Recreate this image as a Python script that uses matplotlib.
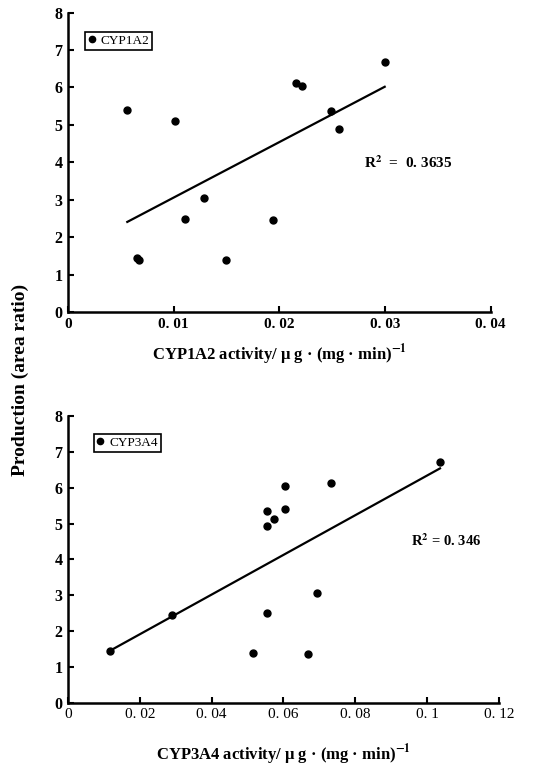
import numpy as np
from matplotlib import pyplot as plt

# CYP1A2 panel
x1 = [0.00561, 0.0065, 0.00675, 0.01013, 0.0111, 0.01284, 0.01492, 0.01937,
      0.02158, 0.02217, 0.02492, 0.02561, 0.02997]
y1 = [5.40, 1.43, 1.39, 5.10, 2.48, 3.05, 1.38, 2.47, 6.13, 6.04, 5.36, 4.90, 6.69]

# CYP3A4 panel
x2 = [0.0117, 0.02905, 0.0516, 0.0553, 0.0553, 0.0555, 0.0574, 0.0604, 0.0604,
      0.0667, 0.0694, 0.0732, 0.1036]
y2 = [1.44, 2.46, 1.38, 2.51, 4.93, 5.36, 5.13, 6.05, 5.41, 1.36, 3.05, 6.14, 6.72]

xt1 = [0, 0.01, 0.02, 0.03, 0.04]
xt1_lab = ['0', '0. 01', '0. 02', '0. 03', '0. 04']
xt2 = [0, 0.02, 0.04, 0.06, 0.08, 0.1, 0.12]
xt2_lab = ['0', '0. 02', '0. 04', '0. 06', '0. 08', '0. 1', '0. 12']
yt = [0, 1, 2, 3, 4, 5, 6, 7, 8]

plt.rcParams['font.family'] = ['Liberation Serif', 'DejaVu Serif']
plt.rcParams['mathtext.fontset'] = 'stix'

fig = plt.figure(figsize=(5.33, 7.68), dpi=100)
ax1 = fig.add_axes([0.1276, 0.5937, 0.793, 0.390])
ax2 = fig.add_axes([0.1276, 0.085, 0.8084, 0.3733])


def panel(ax, x, y, xt, xt_lab, xt_weight, name, r2, r2_pos, r2_size, leg_pos,
          xlabel, lab_y):
    ax.plot(x, y, 'o', color='black', markersize=5, label=name)
    k, b = np.polyfit(x, y, 1)
    xs = np.array([min(x), max(x)])
    ax.plot(xs, k * xs + b, color='black', lw=1.6)
    ax.set_xlim(xt[0], xt[-1])
    ax.set_ylim(0, 8)
    ax.set_xticks(xt)
    ax.set_xticklabels(xt_lab, fontsize=11, fontweight=xt_weight)
    ax.set_yticks(yt)
    ax.set_yticklabels([str(v) for v in yt], fontsize=11.5, fontweight='bold')
    for s in ['top', 'right']:
        ax.spines[s].set_visible(False)
    for s in ['left', 'bottom']:
        ax.spines[s].set_linewidth(1.8)
    ax.tick_params(direction='in', length=4, width=1.5, pad=4)
    ax.text(r2_pos[0], r2_pos[1], r2, fontsize=r2_size, fontweight='bold',
            transform=ax.transAxes, va='center')
    leg = ax.legend(loc='upper left', bbox_to_anchor=leg_pos, fancybox=False,
                    edgecolor='black', framealpha=1, handlelength=0.6,
                    handletextpad=0.4, borderpad=0.2, borderaxespad=0,
                    markerscale=0.9, prop={'size': 9.5})
    leg.get_frame().set_linewidth(1.2)
    ax.set_xlabel(xlabel, fontsize=12, fontweight='bold', va='center')
    ax.xaxis.set_label_coords(0.5, lab_y)


panel(ax1, x1, y1, xt1, xt1_lab, 'bold', 'CYP1A2', r'R$^{\mathbf{2}}$  =  0. 3635',
      (0.70, 0.50), 11, (0.04, 0.935),
      'CYP1A2 activity/ μ g · (mg · min)$^{\\mathbf{-1}}$', -0.143)
panel(ax2, x2, y2, xt2, xt2_lab, 'normal', 'CYP3A4', r'R$^{\mathbf{2}}$ = 0. 346',
      (0.795, 0.565), 10.5, (0.06, 0.937),
      'CYP3A4 activity/ μ g · (mg · min)$^{\\mathbf{-1}}$', -0.181)

fig.text(0.038, 0.505, 'Production (area ratio)', rotation=90, fontsize=14,
         fontweight='bold', ha='center', va='center')

fig.savefig('out.png', dpi=100)
